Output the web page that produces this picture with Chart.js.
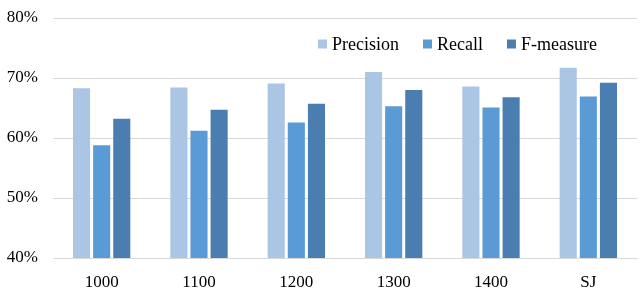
<!DOCTYPE html>
<html>
<head>
<meta charset="utf-8">
<script src="https://cdn.jsdelivr.net/npm/chart.js@4.4.0/dist/chart.umd.min.js"></script>
<style>
html,body{margin:0;padding:0;background:#fff;}
#wrap{width:639px;height:290px;}
</style>
</head>
<body>
<div id="wrap"><canvas id="c" width="639" height="290"></canvas></div>
<script>
const categories = ["1000", "1100", "1200", "1300", "1400", "SJ"];
const precision = [68.3, 68.4, 69.1, 71.0, 68.6, 71.7];
const recall = [58.8, 61.2, 62.6, 65.3, 65.1, 66.9];
const fmeasure = [63.2, 64.7, 65.7, 68.0, 66.8, 69.2];
const yTicks = [40, 50, 60, 70, 80];

const fontFamily = "'Liberation Serif', 'Times New Roman', serif";
const font = {family: fontFamily, size: 17};

const legendPlugin = {
  id: 'insideLegend',
  afterDraw(chart) {
    const ctx = chart.ctx;
    const area = chart.chartArea;
    ctx.save();
    ctx.font = '18px ' + fontFamily;
    ctx.textBaseline = 'middle';
    ctx.textAlign = 'left';
    let x = area.left + 265;
    const y = area.top + 26;
    chart.data.datasets.forEach(ds => {
      ctx.fillStyle = ds.backgroundColor;
      ctx.fillRect(x, y - 4.5, 9, 9);
      ctx.fillStyle = '#000';
      ctx.fillText(ds.label, x + 14, y + 1);
      x += 14 + ctx.measureText(ds.label).width + 24;
    });
    ctx.restore();
  }
};

new Chart(document.getElementById('c'), {
  type: 'bar',
  data: {
    labels: categories,
    datasets: [
      {label: 'Precision', data: precision, backgroundColor: '#abc5e5'},
      {label: 'Recall', data: recall, backgroundColor: '#5b9bd5'},
      {label: 'F-measure', data: fmeasure, backgroundColor: '#4a7eb1'}
    ]
  },
  plugins: [legendPlugin],
  options: {
    responsive: false,
    animation: false,
    devicePixelRatio: 1,
    layout: {padding: {top: 18, right: 2, left: 0, bottom: 0}},
    datasets: {bar: {categoryPercentage: 0.62, barPercentage: 0.85}},
    plugins: {
      tooltip: {enabled: false},
      legend: {display: false}
    },
    scales: {
      x: {
        grid: {display: false},
        border: {color: '#d9d9d9'},
        ticks: {font: font, color: '#000', padding: 6},
        afterFit: s => { s.height = 32; }
      },
      y: {
        min: 40, max: 80,
        afterBuildTicks: s => { s.ticks = yTicks.map(v => ({value: v})); },
        grid: {color: '#d9d9d9', drawTicks: false},
        border: {display: false},
        ticks: {font: font, color: '#000', padding: 15, callback: v => v + '%'},
        afterFit: s => { s.width = 53; s.paddingTop = 0; s.paddingBottom = 0; }
      }
    }
  }
});
</script>
</body>
</html>
